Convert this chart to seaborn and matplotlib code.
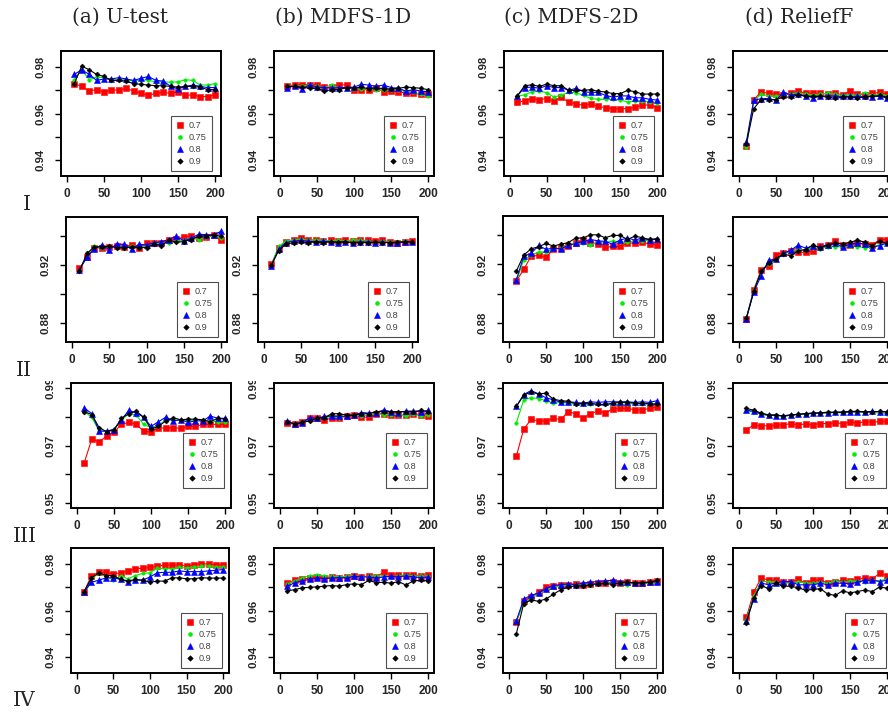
import matplotlib
matplotlib.use("Agg")
import matplotlib.pyplot as plt
from matplotlib.lines import Line2D
from matplotlib.transforms import Bbox, TransformedBbox
import pandas as pd
import seaborn as sns

# ---------------------------------------------------------------- data
sizes = list(range(10, 201, 10))
thresholds = ["0.7", "0.75", "0.8", "0.9"]
methods = ["(a) U-test", "(b) MDFS-1D", "(c) MDFS-2D", "(d) ReliefF"]
datasets = ["I", "II", "III", "IV"]

# dataset I
i_a_07 = [0.9729,0.9717,0.9697,0.9703,0.9691,0.9703,0.9700,0.9709,0.9697,0.9687,0.9678,0.9687,0.9691,0.9687,0.9693,0.9678,0.9681,0.9673,0.9673,0.9681]
i_a_075 = [0.9746,0.9790,0.9746,0.9758,0.9755,0.9746,0.9746,0.9746,0.9740,0.9746,0.9743,0.9737,0.9737,0.9735,0.9737,0.9746,0.9743,0.9723,0.9723,0.9729]
i_a_08 = [0.9769,0.9789,0.9769,0.9743,0.9749,0.9749,0.9755,0.9749,0.9743,0.9752,0.9760,0.9743,0.9740,0.9717,0.9706,0.9717,0.9723,0.9717,0.9712,0.9712]
i_a_09 = [0.9729,0.9805,0.9789,0.9769,0.9760,0.9743,0.9743,0.9740,0.9729,0.9726,0.9723,0.9720,0.9720,0.9717,0.9714,0.9717,0.9717,0.9714,0.9703,0.9703]

i_b_07 = [0.9719,0.9724,0.9724,0.9724,0.9724,0.9713,0.9713,0.9724,0.9724,0.9703,0.9703,0.9703,0.9712,0.9694,0.9697,0.9694,0.9688,0.9688,0.9683,0.9686]
i_b_075 = [0.9717,0.9720,0.9717,0.9723,0.9717,0.9712,0.9724,0.9709,0.9712,0.9706,0.9706,0.9706,0.9703,0.9700,0.9703,0.9700,0.9697,0.9691,0.9683,0.9674]
i_b_08 = [0.9710,0.9720,0.9706,0.9724,0.9714,0.9712,0.9709,0.9712,0.9712,0.9714,0.9726,0.9723,0.9717,0.9723,0.9712,0.9709,0.9697,0.9703,0.9697,0.9694]
i_b_09 = [0.9717,0.9717,0.9714,0.9709,0.9709,0.9697,0.9703,0.9703,0.9712,0.9709,0.9714,0.9706,0.9712,0.9706,0.9706,0.9709,0.9714,0.9712,0.9709,0.9703]

i_c_07 = [0.9648,0.9655,0.9664,0.9660,0.9664,0.9653,0.9670,0.9648,0.9642,0.9635,0.9641,0.9631,0.9625,0.9621,0.9621,0.9621,0.9627,0.9635,0.9638,0.9625]
i_c_075 = [0.9676,0.9680,0.9694,0.9697,0.9690,0.9671,0.9680,0.9691,0.9690,0.9678,0.9665,0.9661,0.9661,0.9661,0.9658,0.9650,0.9654,0.9654,0.9651,0.9647]
i_c_08 = [0.9676,0.9712,0.9714,0.9709,0.9720,0.9712,0.9712,0.9700,0.9709,0.9694,0.9691,0.9691,0.9678,0.9671,0.9676,0.9676,0.9668,0.9668,0.9661,0.9658]
i_c_09 = [0.9676,0.9720,0.9724,0.9717,0.9727,0.9720,0.9720,0.9700,0.9700,0.9700,0.9703,0.9696,0.9693,0.9686,0.9686,0.9700,0.9694,0.9684,0.9684,0.9684]

i_d_07 = [0.9460,0.9660,0.9693,0.9687,0.9683,0.9681,0.9688,0.9697,0.9687,0.9687,0.9687,0.9684,0.9687,0.9681,0.9697,0.9684,0.9681,0.9687,0.9691,0.9684]
i_d_075 = [0.9455,0.9654,0.9683,0.9677,0.9674,0.9680,0.9686,0.9688,0.9684,0.9681,0.9684,0.9688,0.9683,0.9678,0.9681,0.9678,0.9690,0.9678,0.9683,0.9677]
i_d_08 = [0.9477,0.9657,0.9664,0.9665,0.9657,0.9691,0.9680,0.9684,0.9677,0.9667,0.9674,0.9677,0.9674,0.9674,0.9674,0.9674,0.9674,0.9673,0.9674,0.9667]
i_d_09 = [0.9470,0.9621,0.9660,0.9660,0.9660,0.9671,0.9671,0.9681,0.9674,0.9674,0.9674,0.9671,0.9665,0.9671,0.9671,0.9668,0.9671,0.9674,0.9678,0.9670]

# dataset II
ii_a_07 = [0.9177,0.9253,0.9321,0.9317,0.9326,0.9330,0.9326,0.9339,0.9317,0.9349,0.9353,0.9353,0.9371,0.9378,0.9394,0.9399,0.9385,0.9394,0.9406,0.9371]
ii_a_075 = [0.9166,0.9264,0.9335,0.9321,0.9326,0.9330,0.9321,0.9330,0.9321,0.9335,0.9349,0.9353,0.9349,0.9367,0.9371,0.9385,0.9376,0.9394,0.9399,0.9390]
ii_a_08 = [0.9168,0.9253,0.9312,0.9339,0.9307,0.9344,0.9344,0.9310,0.9344,0.9339,0.9353,0.9362,0.9376,0.9399,0.9367,0.9385,0.9413,0.9410,0.9408,0.9433]
ii_a_09 = [0.9157,0.9280,0.9326,0.9326,0.9330,0.9321,0.9317,0.9326,0.9321,0.9321,0.9344,0.9335,0.9371,0.9358,0.9362,0.9376,0.9399,0.9403,0.9408,0.9399]

ii_b_07 = [0.9205,0.9320,0.9360,0.9370,0.9390,0.9375,0.9370,0.9365,0.9370,0.9365,0.9370,0.9365,0.9370,0.9370,0.9365,0.9370,0.9360,0.9355,0.9360,0.9365]
ii_b_075 = [0.9200,0.9330,0.9365,0.9375,0.9380,0.9370,0.9375,0.9370,0.9365,0.9370,0.9365,0.9375,0.9370,0.9365,0.9360,0.9365,0.9360,0.9360,0.9365,0.9360]
ii_b_08 = [0.9195,0.9310,0.9355,0.9365,0.9370,0.9365,0.9360,0.9365,0.9360,0.9355,0.9360,0.9355,0.9360,0.9360,0.9355,0.9360,0.9355,0.9350,0.9360,0.9360]
ii_b_09 = [0.9200,0.9300,0.9345,0.9355,0.9360,0.9355,0.9360,0.9355,0.9360,0.9360,0.9360,0.9355,0.9355,0.9355,0.9360,0.9355,0.9355,0.9360,0.9360,0.9360]

ii_c_07 = [0.9086,0.9166,0.9257,0.9262,0.9248,0.9303,0.9312,0.9326,0.9344,0.9367,0.9349,0.9342,0.9317,0.9323,0.9323,0.9344,0.9349,0.9353,0.9339,0.9335]
ii_c_075 = [0.9086,0.9230,0.9262,0.9285,0.9285,0.9307,0.9312,0.9330,0.9344,0.9349,0.9330,0.9353,0.9353,0.9358,0.9353,0.9353,0.9358,0.9358,0.9367,0.9371]
ii_c_08 = [0.9093,0.9257,0.9275,0.9330,0.9303,0.9312,0.9307,0.9330,0.9344,0.9358,0.9371,0.9362,0.9358,0.9339,0.9367,0.9381,0.9367,0.9381,0.9367,0.9376]
ii_c_09 = [0.9154,0.9264,0.9307,0.9321,0.9344,0.9326,0.9339,0.9349,0.9381,0.9381,0.9403,0.9403,0.9383,0.9399,0.9399,0.9371,0.9394,0.9383,0.9371,0.9376]

ii_d_07 = [0.8830,0.9029,0.9166,0.9195,0.9271,0.9285,0.9298,0.9289,0.9287,0.9298,0.9330,0.9337,0.9367,0.9339,0.9339,0.9349,0.9344,0.9339,0.9376,0.9376]
ii_d_075 = [0.8830,0.9024,0.9157,0.9207,0.9234,0.9275,0.9294,0.9303,0.9307,0.9319,0.9314,0.9326,0.9326,0.9326,0.9333,0.9326,0.9321,0.9326,0.9339,0.9349]
ii_d_08 = [0.8830,0.9013,0.9127,0.9234,0.9239,0.9280,0.9303,0.9337,0.9317,0.9330,0.9326,0.9339,0.9349,0.9326,0.9344,0.9353,0.9344,0.9321,0.9335,0.9353]
ii_d_09 = [0.8834,0.9019,0.9157,0.9211,0.9243,0.9275,0.9264,0.9298,0.9307,0.9339,0.9317,0.9339,0.9353,0.9344,0.9358,0.9371,0.9358,0.9335,0.9367,0.9349]

# dataset III
iii_a_07 = [0.9641,0.9722,0.9713,0.9732,0.9746,0.9773,0.9780,0.9773,0.9750,0.9746,0.9762,0.9759,0.9762,0.9759,0.9766,0.9766,0.9773,0.9773,0.9773,0.9773]
iii_a_075 = [0.9817,0.9798,0.9750,0.9748,0.9756,0.9787,0.9810,0.9805,0.9773,0.9762,0.9769,0.9789,0.9787,0.9789,0.9785,0.9789,0.9787,0.9785,0.9782,0.9782]
iii_a_08 = [0.9830,0.9810,0.9750,0.9750,0.9755,0.9789,0.9821,0.9813,0.9798,0.9766,0.9782,0.9798,0.9785,0.9789,0.9780,0.9785,0.9785,0.9802,0.9794,0.9794]
iii_a_09 = [0.9817,0.9807,0.9762,0.9748,0.9753,0.9794,0.9810,0.9819,0.9798,0.9757,0.9766,0.9785,0.9796,0.9789,0.9791,0.9791,0.9789,0.9782,0.9794,0.9791]

iii_b_07 = [0.9779,0.9773,0.9781,0.9796,0.9794,0.9789,0.9794,0.9796,0.9801,0.9807,0.9798,0.9798,0.9810,0.9810,0.9807,0.9805,0.9805,0.9810,0.9807,0.9803]
iii_b_075 = [0.9780,0.9771,0.9780,0.9789,0.9794,0.9794,0.9801,0.9794,0.9803,0.9805,0.9803,0.9805,0.9810,0.9807,0.9807,0.9807,0.9801,0.9810,0.9801,0.9805]
iii_b_08 = [0.9785,0.9773,0.9778,0.9796,0.9794,0.9801,0.9801,0.9801,0.9801,0.9805,0.9814,0.9812,0.9814,0.9823,0.9817,0.9814,0.9819,0.9819,0.9817,0.9821]
iii_b_09 = [0.9781,0.9775,0.9780,0.9785,0.9794,0.9796,0.9810,0.9810,0.9805,0.9805,0.9810,0.9810,0.9817,0.9817,0.9817,0.9817,0.9817,0.9817,0.9821,0.9817]

iii_c_07 = [0.9663,0.9757,0.9790,0.9785,0.9785,0.9794,0.9790,0.9817,0.9810,0.9794,0.9810,0.9819,0.9812,0.9826,0.9828,0.9828,0.9823,0.9823,0.9828,0.9834]
iii_c_075 = [0.9778,0.9858,0.9865,0.9862,0.9855,0.9846,0.9849,0.9846,0.9842,0.9842,0.9842,0.9842,0.9842,0.9842,0.9842,0.9844,0.9844,0.9844,0.9844,0.9844]
iii_c_08 = [0.9835,0.9876,0.9890,0.9878,0.9865,0.9858,0.9849,0.9851,0.9849,0.9846,0.9851,0.9849,0.9851,0.9851,0.9851,0.9851,0.9849,0.9851,0.9849,0.9855]
iii_c_09 = [0.9835,0.9874,0.9885,0.9878,0.9881,0.9860,0.9855,0.9853,0.9844,0.9846,0.9846,0.9842,0.9842,0.9846,0.9849,0.9849,0.9846,0.9846,0.9844,0.9842]

iii_d_07 = [0.9755,0.9770,0.9768,0.9768,0.9770,0.9772,0.9775,0.9772,0.9774,0.9772,0.9776,0.9776,0.9778,0.9776,0.9780,0.9778,0.9782,0.9780,0.9783,0.9783]
iii_d_075 = [0.9820,0.9815,0.9808,0.9802,0.9805,0.9800,0.9804,0.9806,0.9808,0.9810,0.9812,0.9812,0.9814,0.9812,0.9815,0.9815,0.9814,0.9815,0.9812,0.9810]
iii_d_08 = [0.9822,0.9818,0.9810,0.9805,0.9803,0.9803,0.9806,0.9808,0.9810,0.9812,0.9812,0.9814,0.9815,0.9816,0.9816,0.9817,0.9816,0.9818,0.9817,0.9816]
iii_d_09 = [0.9828,0.9822,0.9812,0.9806,0.9806,0.9802,0.9805,0.9808,0.9810,0.9812,0.9813,0.9815,0.9815,0.9815,0.9818,0.9818,0.9817,0.9816,0.9818,0.9816]

# dataset IV
iv_a_07 = [0.9682,0.9751,0.9765,0.9765,0.9758,0.9763,0.9770,0.9780,0.9783,0.9786,0.9791,0.9797,0.9797,0.9797,0.9791,0.9797,0.9803,0.9800,0.9797,0.9797]
iv_a_075 = [0.9676,0.9734,0.9763,0.9748,0.9731,0.9748,0.9737,0.9751,0.9760,0.9763,0.9783,0.9780,0.9780,0.9786,0.9784,0.9788,0.9791,0.9794,0.9788,0.9788]
iv_a_08 = [0.9679,0.9722,0.9731,0.9741,0.9741,0.9734,0.9725,0.9731,0.9731,0.9745,0.9763,0.9765,0.9765,0.9771,0.9768,0.9768,0.9768,0.9771,0.9774,0.9777]
iv_a_09 = [0.9682,0.9741,0.9763,0.9751,0.9751,0.9734,0.9728,0.9734,0.9731,0.9722,0.9727,0.9727,0.9741,0.9741,0.9737,0.9737,0.9742,0.9740,0.9740,0.9740]

iv_b_07 = [0.9720,0.9730,0.9735,0.9740,0.9745,0.9742,0.9745,0.9740,0.9745,0.9748,0.9745,0.9750,0.9745,0.9765,0.9755,0.9752,0.9752,0.9755,0.9750,0.9752]
iv_b_075 = [0.9715,0.9728,0.9740,0.9750,0.9755,0.9750,0.9748,0.9745,0.9748,0.9750,0.9745,0.9748,0.9750,0.9748,0.9745,0.9750,0.9752,0.9750,0.9748,0.9750]
iv_b_08 = [0.9705,0.9720,0.9728,0.9735,0.9740,0.9738,0.9740,0.9742,0.9740,0.9748,0.9745,0.9745,0.9740,0.9745,0.9748,0.9745,0.9750,0.9745,0.9742,0.9745]
iv_b_09 = [0.9685,0.9690,0.9698,0.9700,0.9702,0.9705,0.9708,0.9705,0.9712,0.9715,0.9712,0.9730,0.9720,0.9722,0.9718,0.9725,0.9710,0.9728,0.9730,0.9728]

iv_c_07 = [0.9550,0.9640,0.9660,0.9680,0.9700,0.9705,0.9710,0.9712,0.9715,0.9712,0.9715,0.9718,0.9720,0.9722,0.9718,0.9722,0.9718,0.9720,0.9725,0.9728]
iv_c_075 = [0.9555,0.9630,0.9655,0.9670,0.9690,0.9700,0.9705,0.9710,0.9712,0.9715,0.9712,0.9715,0.9718,0.9720,0.9715,0.9712,0.9718,0.9715,0.9718,0.9720]
iv_c_08 = [0.9555,0.9650,0.9665,0.9675,0.9695,0.9708,0.9712,0.9715,0.9712,0.9718,0.9722,0.9725,0.9728,0.9730,0.9725,0.9722,0.9720,0.9718,0.9722,0.9725]
iv_c_09 = [0.9500,0.9630,0.9645,0.9640,0.9650,0.9670,0.9690,0.9700,0.9708,0.9705,0.9712,0.9715,0.9718,0.9712,0.9720,0.9722,0.9718,0.9720,0.9722,0.9730]

iv_d_07 = [0.9570,0.9679,0.9741,0.9731,0.9731,0.9722,0.9722,0.9734,0.9719,0.9731,0.9731,0.9719,0.9725,0.9731,0.9728,0.9734,0.9740,0.9737,0.9760,0.9751]
iv_d_075 = [0.9558,0.9662,0.9725,0.9725,0.9722,0.9719,0.9719,0.9725,0.9719,0.9717,0.9722,0.9717,0.9728,0.9722,0.9728,0.9728,0.9725,0.9731,0.9728,0.9737]
iv_d_08 = [0.9553,0.9650,0.9719,0.9711,0.9719,0.9725,0.9725,0.9711,0.9711,0.9711,0.9717,0.9711,0.9717,0.9719,0.9714,0.9722,0.9731,0.9731,0.9725,0.9731]
iv_d_09 = [0.9547,0.9655,0.9708,0.9694,0.9717,0.9705,0.9705,0.9698,0.9688,0.9691,0.9694,0.9671,0.9665,0.9685,0.9676,0.9682,0.9688,0.9682,0.9702,0.9696]

panels = {
    ("I", 0): [i_a_07, i_a_075, i_a_08, i_a_09],
    ("I", 1): [i_b_07, i_b_075, i_b_08, i_b_09],
    ("I", 2): [i_c_07, i_c_075, i_c_08, i_c_09],
    ("I", 3): [i_d_07, i_d_075, i_d_08, i_d_09],
    ("II", 0): [ii_a_07, ii_a_075, ii_a_08, ii_a_09],
    ("II", 1): [ii_b_07, ii_b_075, ii_b_08, ii_b_09],
    ("II", 2): [ii_c_07, ii_c_075, ii_c_08, ii_c_09],
    ("II", 3): [ii_d_07, ii_d_075, ii_d_08, ii_d_09],
    ("III", 0): [iii_a_07, iii_a_075, iii_a_08, iii_a_09],
    ("III", 1): [iii_b_07, iii_b_075, iii_b_08, iii_b_09],
    ("III", 2): [iii_c_07, iii_c_075, iii_c_08, iii_c_09],
    ("III", 3): [iii_d_07, iii_d_075, iii_d_08, iii_d_09],
    ("IV", 0): [iv_a_07, iv_a_075, iv_a_08, iv_a_09],
    ("IV", 1): [iv_b_07, iv_b_075, iv_b_08, iv_b_09],
    ("IV", 2): [iv_c_07, iv_c_075, iv_c_08, iv_c_09],
    ("IV", 3): [iv_d_07, iv_d_075, iv_d_08, iv_d_09],
}

# y range, tick positions and labelled ticks for each dataset
y_range = {"I": (0.935, 0.985), "II": (0.87, 0.95), "III": (0.95, 0.99), "IV": (0.935, 0.985)}
y_ticks = {
    "I": [0.94, 0.95, 0.96, 0.97, 0.98],
    "II": [0.88, 0.90, 0.92, 0.94],
    "III": [0.95, 0.96, 0.97, 0.98, 0.99],
    "IV": [0.94, 0.95, 0.96, 0.97, 0.98],
}
y_labels = {
    "I": ["0.94", "", "0.96", "", "0.98"],
    "II": ["0.88", "", "0.92", ""],
    "III": ["0.95", "", "0.97", "", "0.99"],
    "IV": ["0.94", "", "0.96", "", "0.98"],
}
x_ticks = [0, 50, 100, 150, 200]

# ---------------------------------------------------------------- styling
colors = ["#ff0000", "#00ee00", "#0000ff", "#000000"]
markers = ["s", "o", "^", "D"]
msizes = [4.0, 2.5, 4.2, 2.5]

W, H = 888, 715
# panel boxes in pixels: left, top, right, bottom
boxes = {
    "I":   [(61, 51, 221, 176), (274, 51, 434, 176), (504, 51, 663, 176), (733, 51, 893, 176)],
    "II":  [(66, 217, 227, 342), (258, 217, 418, 342), (503, 216, 663, 342), (733, 217, 893, 342)],
    "III": [(71, 383, 231, 508), (274, 383, 434, 508), (503, 383, 663, 508), (733, 383, 893, 508)],
    "IV":  [(71, 548, 229, 673), (274, 548, 434, 673), (503, 548, 663, 673), (733, 548, 893, 673)],
}
# legend insets (right, bottom) in pixels
legend_inset = {"I": (9, 5), "II": (9, 5), "III": (7, 20), "IV": (7, 5)}
# tick labels of a row are cut above this pixel line (top edge of each row's strip)
row_clip_top = {"I": 40, "II": 205, "III": 381, "IV": 540}

sns.set_style("ticks")
plt.rcParams["font.family"] = ["Liberation Sans", "DejaVu Sans"]

fig = plt.figure(figsize=(W / 100, H / 100), dpi=100)

for ds in datasets:
    lo, hi = y_range[ds]
    pad_y = 0.04 * (hi - lo)
    for j in range(4):
        l, t, r, b = boxes[ds][j]
        ax = fig.add_axes([l / W, 1 - b / H, (r - l) / W, (b - t) / H])
        rows = []
        for k, thr in enumerate(thresholds):
            for s, v in zip(sizes, panels[(ds, j)][k]):
                rows.append({"size": s, "acc": v, "thr": thr})
        df = pd.DataFrame(rows)
        for k, thr in enumerate(thresholds):
            sns.lineplot(
                data=df[df["thr"] == thr], x="size", y="acc",
                color=colors[k], marker=markers[k], markersize=msizes[k],
                markeredgewidth=0.4, markeredgecolor=colors[k],
                linewidth=0.8, ax=ax, legend=False, errorbar=None,
            )
        ax.set_xlim(-8, 208)
        ax.set_ylim(lo - pad_y, hi + pad_y)
        ax.set_xticks(x_ticks)
        ax.set_xticklabels([str(v) for v in x_ticks], fontsize=8.5, fontweight="bold")
        ax.set_yticks(y_ticks[ds])
        ax.set_yticklabels(y_labels[ds], fontsize=8.2, fontweight="bold",
                           rotation=90, va="center")
        ax.set_xlabel("")
        ax.set_ylabel("")
        ax.tick_params(axis="both", direction="out", length=4.5, width=1.0, color="black")
        ax.tick_params(axis="x", pad=4)
        ax.tick_params(axis="y", pad=6.5)
        for sp in ax.spines.values():
            sp.set_visible(True)
            sp.set_linewidth(1.4)
            sp.set_color("black")

        clip = TransformedBbox(
            Bbox.from_extents(0, 0, 1.1, 1 - row_clip_top[ds] / H), fig.transFigure)
        for tick in ax.yaxis.get_major_ticks():
            tick.label1.set_clip_box(clip)
            tick.label1.set_clip_on(True)

        handles = [
            Line2D([0], [0], color=colors[k], marker=markers[k], linestyle="none",
                   markersize=msizes[k] + 0.3, markeredgewidth=0.4,
                   markeredgecolor=colors[k])
            for k in range(4)
        ]
        ir, ib = legend_inset[ds]
        leg = ax.legend(
            handles, thresholds, loc="lower right",
            bbox_to_anchor=(1 - ir / (r - l), ib / (b - t)),
            borderaxespad=0, frameon=True, fancybox=False,
            fontsize=6.6, labelspacing=0.32, handlelength=0.9,
            handletextpad=0.5, borderpad=0.55,
        )
        leg.get_frame().set_edgecolor("#222222")
        leg.get_frame().set_linewidth(0.8)
        for txt in leg.get_texts():
            txt.set_color("#444444")

# column titles
title_x = [120, 343, 571, 799]
for name, x in zip(methods, title_x):
    fig.text(x / W, 1 - 17 / H, name, ha="center", va="center",
             family=["DejaVu Serif"], fontsize=14.5)

# dataset labels
row_label_pos = {"I": (27, 205), "II": (24, 371), "III": (25, 537), "IV": (24, 701)}
for ds in datasets:
    x, y = row_label_pos[ds]
    fig.text(x / W, 1 - y / H, ds, ha="center", va="center",
             family=["DejaVu Serif"], fontsize=14.5)

fig.savefig("out.png", dpi=100)
